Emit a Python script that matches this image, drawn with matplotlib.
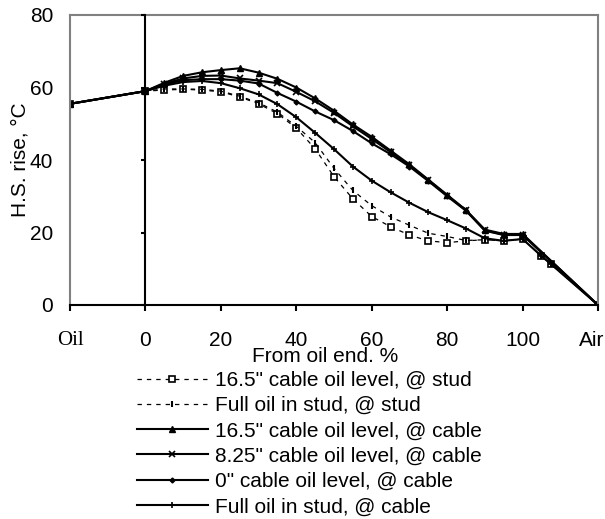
import matplotlib
matplotlib.use("Agg")
import matplotlib.pyplot as plt
from matplotlib.transforms import ScaledTranslation

plt.rcParams['font.family'] = ['Liberation Sans', 'DejaVu Sans']

# ---- data ----
x_main = [-20, 0, 5, 10, 15, 20, 25, 30, 35, 40, 45, 50, 55, 60, 65, 70, 75, 80, 85, 90, 95, 100, 120]
x_ext = [-20, 0, 5, 10, 15, 20, 25, 30, 35, 40, 45, 50, 55, 60, 65, 70, 75, 80, 85, 90, 95, 100, 105, 107.5, 120]

stud_165 = [55.5, 59.0, 59.3, 59.5, 59.3, 58.8, 57.4, 55.5, 52.8, 48.8, 43.1, 35.4, 29.3, 24.4, 21.6, 19.3,
            17.7, 17.2, 17.7, 18.0, 17.7, 18.2, 13.5, 11.3, 0.0]
stud_full = [55.5, 59.0, 59.6, 59.6, 59.5, 59.0, 57.6, 55.8, 53.2, 49.3, 44.8, 37.7, 31.6, 27.4, 24.3, 22.0,
             19.8, 18.9, 17.8, 18.0, 17.7, 18.2, 13.5, 11.3, 0.0]
cable_165 = [55.5, 59.0, 61.3, 63.2, 64.2, 64.8, 65.3, 64.1, 62.4, 60.0, 57.0, 53.6, 49.8, 46.4, 42.6, 38.8,
             34.6, 30.4, 26.2, 20.8, 19.6, 19.6, 0.0]
cable_825 = [55.5, 59.0, 61.0, 62.5, 63.2, 63.3, 62.5, 61.9, 61.2, 58.8, 56.2, 53.0, 49.3, 45.8, 42.2, 38.5,
             34.4, 30.2, 26.1, 20.6, 19.4, 19.4, 0.0]
cable_0 = [55.5, 59.0, 60.8, 62.0, 62.3, 62.3, 61.9, 61.1, 58.5, 56.1, 53.4, 51.0, 48.0, 44.6, 41.6, 38.2,
           34.2, 30.0, 26.0, 20.5, 19.3, 19.3, 0.0]
cable_full = [55.5, 59.0, 60.5, 61.5, 61.8, 61.2, 59.8, 58.1, 55.4, 51.8, 47.5, 43.0, 38.2, 34.3, 31.1, 28.2,
              25.6, 23.4, 21.1, 18.4, 17.7, 18.2, 13.5, 11.3, 0.0]

labels = ['16.5" cable oil level, @ stud', 'Full oil in stud, @ stud',
          '16.5" cable oil level, @ cable', '8.25" cable oil level, @ cable',
          '0" cable oil level, @ cable', 'Full oil in stud, @ cable']

x_ticks = [-20, 0, 20, 40, 60, 80, 100, 120]
x_ticklabels = ['Oil', '0', '20', '40', '60', '80', '100', 'Air']
y_ticks = [0, 20, 40, 60, 80]

FS = 15
W, H = 605, 519
fig = plt.figure(figsize=(W / 100, H / 100), dpi=100)
rect = [70 / W, 1 - 305 / H, 528 / W, 290 / H]
ax = fig.add_axes(rect)
ax.set_xlim(-20, 120)
ax.set_ylim(0, 80)

dash = (0, (3.5, 4.0))
h1, = ax.plot(x_ext, stud_165, color='black', lw=0.9, ls=dash, marker='s', ms=4,
              mfc='white', mec='black', mew=1.2)
h2, = ax.plot(x_ext, stud_full, color='black', lw=0.9, ls=dash, marker='|', ms=5, mew=1.5)
h3, = ax.plot(x_main, cable_165, color='black', lw=1.5, marker='^', ms=4)
h4, = ax.plot(x_main, cable_825, color='black', lw=1.5, marker='x', ms=4, mew=1.2)
h5, = ax.plot(x_main, cable_0, color='black', lw=1.5, marker='D', ms=2.5)
h6, = ax.plot(x_ext, cable_full, color='black', lw=1.5, marker='+', ms=5, mew=1.2)

for s in ('left', 'top', 'right'):
    ax.spines[s].set_color('#808080')
    ax.spines[s].set_linewidth(1.5)
ax.spines['bottom'].set_color('black')
ax.spines['bottom'].set_linewidth(1.5)

ax.set_xticks(x_ticks, labels=x_ticklabels)
ax.set_yticks(y_ticks)
ax.tick_params(axis='x', direction='out', length=4.5, width=1.5, pad=14.5, labelsize=FS)
ax.tick_params(axis='y', length=0, pad=12, labelsize=FS)
for t in ax.get_xticklabels():
    if t.get_text() == 'Oil':
        t.set_fontfamily('Liberation Serif')
    if t.get_text() == 'Air':
        t.set_transform(t.get_transform() + ScaledTranslation(-6 / 100, 0, fig.dpi_scale_trans))

ax.set_xlabel('From oil end. %', fontsize=FS)
ax.xaxis.set_label_coords((325 - 70) / 528, (305 - 347) / 290)
ax.set_ylabel('H.S. rise, °C', fontsize=FS)
ax.yaxis.set_label_coords((29 - 70) / 528, 0.5)

# vertical value axis crossing at x = 0
ax2 = fig.add_axes(rect, sharex=ax, sharey=ax)
ax2.patch.set_visible(False)
for s in ('top', 'right', 'bottom'):
    ax2.spines[s].set_visible(False)
ax2.spines['left'].set_position(('data', 0))
ax2.spines['left'].set_color('black')
ax2.spines['left'].set_linewidth(1.5)
ax2.tick_params(axis='y', direction='out', length=3, width=1.5, labelleft=False)
ax2.tick_params(axis='x', bottom=False, labelbottom=False)

fig.legend([h1, h2, h3, h4, h5, h6], labels, loc='upper left',
           bbox_to_anchor=(137 / W, 1 - 371 / H), frameon=False, fontsize=FS,
           handlelength=3.4, handletextpad=0.35, labelspacing=0.3,
           borderpad=0, borderaxespad=0, markerscale=1.0)

fig.savefig('out.png', dpi=100)
